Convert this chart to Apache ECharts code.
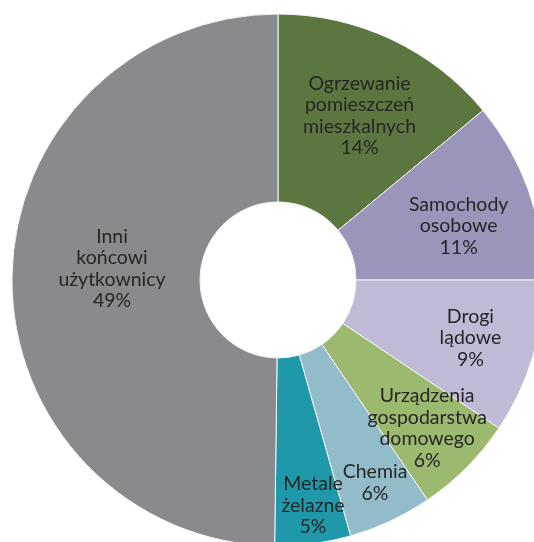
<!DOCTYPE html>
<html>
<head>
<meta charset="utf-8">
<script src="https://cdn.jsdelivr.net/npm/echarts@6/dist/echarts.min.js"></script>
<style>html,body{margin:0;padding:0;background:#fff;}#c{width:534px;height:542px;}</style>
</head>
<body>
<div id="c"></div>
<script>
const categories = [
  "Ogrzewanie\npomieszczeń\nmieszkalnych",
  "Samochody\nosobowe",
  "Drogi\nlądowe",
  "Urządzenia\ngospodarstwa\ndomowego",
  "Chemia",
  "Metale\nżelazne",
  "Inni\nkońcowi\nużytkownicy"
];
const values = [14.0, 11.0, 9.4, 6.1, 5.1, 4.6, 49.8];
const percentLabels = ["14%", "11%", "9%", "6%", "6%", "5%", "49%"];

// styling (not data)
const colors = ["#5b773f", "#9b95bb", "#bfbad5", "#9bb96f", "#93bccb", "#1f98aa", "#898a8e"];
const labelOffsets = [[7, -6], [16, 5], [25, 7], [25, 25], [23, 44], [12, 52], [9, -10]];

const chart = echarts.init(document.getElementById('c'), null, {renderer: 'canvas'});
chart.setOption({
  animation: false,
  series: [{
    type: 'pie',
    center: [278, 280],
    radius: [78, 266],
    startAngle: 90,
    clockwise: true,
    avoidLabelOverlap: false,
    labelLayout: {hideOverlap: false},
    itemStyle: {borderColor: '#f4f4f4', borderWidth: 1},
    label: {
      show: true,
      position: 'inside',
      fontFamily: 'Lato',
      fontSize: 19.5,
      lineHeight: 21.5,
      color: '#262626',
      align: 'center',
      formatter: p => p.name + '\n' + percentLabels[p.dataIndex]
    },
    labelLine: {show: false},
    emphasis: {disabled: true},
    data: categories.map((n, i) => ({
      name: n,
      value: values[i],
      itemStyle: {color: colors[i]},
      label: {offset: labelOffsets[i]}
    }))
  }]
});
</script>
</body>
</html>
